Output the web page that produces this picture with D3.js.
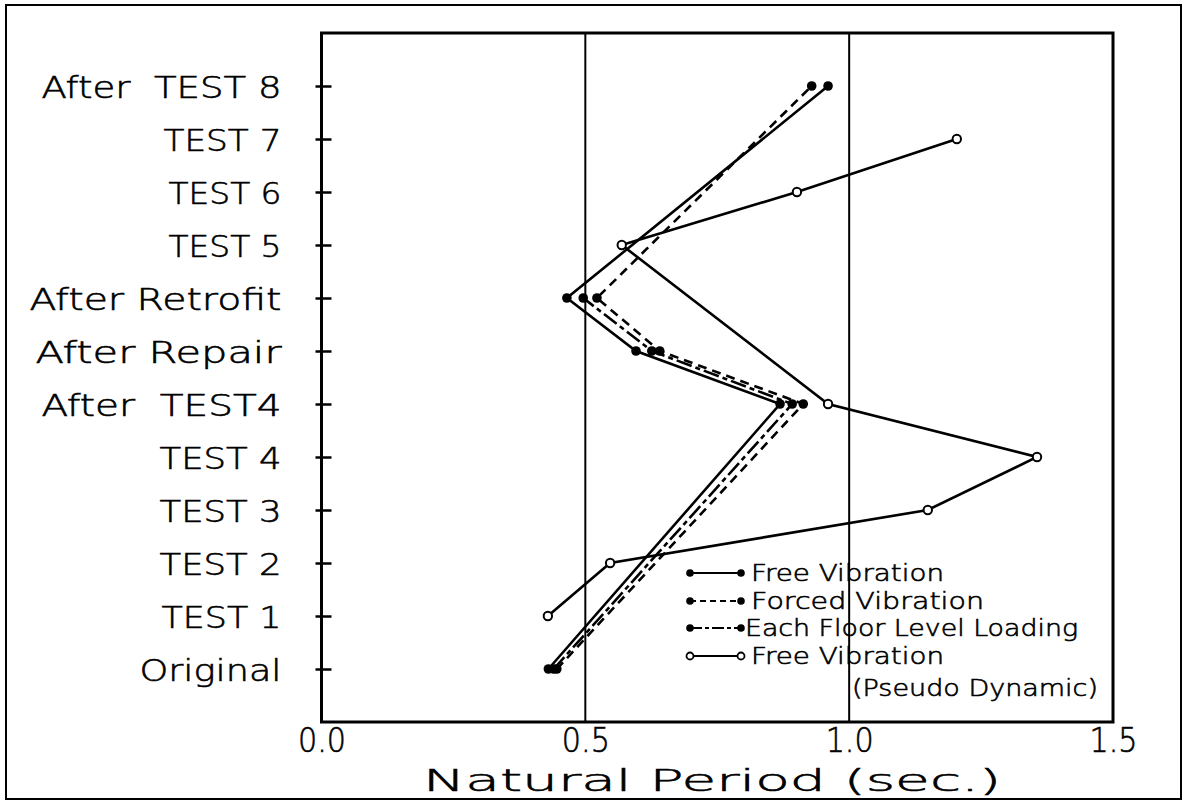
<!DOCTYPE html>
<html><head><meta charset="utf-8">
<script src="https://cdn.jsdelivr.net/npm/d3@7"></script>
<style>body{margin:0;background:#fff}svg{display:block}text{font-family:"DejaVu Sans",sans-serif;fill:#000;font-weight:200;stroke:#000;stroke-width:0.6}</style>
</head><body>
<svg id="c" width="1185" height="801"></svg>
<script>
const categories = ["Original","TEST 1","TEST 2","TEST 3","TEST 4","After  TEST4","After Repair","After Retrofit","TEST 5","TEST 6","TEST 7","After  TEST 8"];
const labelWidths = [142,120,122,122,122,240,246,252,113,113,118,240];
const freeVib    = [0.43, null, null, null, null, 0.869, 0.596, 0.465, null, null, null, 0.960];
const forcedVib  = [0.446,null, null, null, null, 0.913, 0.641, 0.522, null, null, null, 0.929];
const floorLoad  = [0.44, null, null, null, null, 0.892, 0.626, 0.496, null, null, null, null];
const pseudoVib  = [null, 0.429, 0.547, 1.149, 1.356, 0.960, null, null, 0.569, 0.901, 1.204, null];
const xTicks = [0.0, 0.5, 1.0, 1.5];
const legendLabels = ["Free Vibration","Forced Vibration","Each Floor Level Loading","Free Vibration"];

const svg = d3.select("#c");
const L = 321.5, R = 1113, T = 33, B = 722;
const x = d3.scaleLinear().domain([0,1.5]).range([L,R]);
const y = d3.scaleLinear().domain([-1,12]).range([B,T]);

// outer border
svg.append("rect").attr("x",6).attr("y",5).attr("width",1175).attr("height",794)
  .attr("fill","none").attr("stroke","#000").attr("stroke-width",2);

// gridlines
svg.append("g").selectAll("line").data([0.5,1.0]).join("line")
  .attr("x1",d=>x(d)).attr("x2",d=>x(d)).attr("y1",T).attr("y2",B)
  .attr("stroke","#000").attr("stroke-width",2);

// frame
svg.append("rect").attr("x",L).attr("y",T).attr("width",R-L).attr("height",B-T)
  .attr("fill","none").attr("stroke","#000").attr("stroke-width",3);

// y ticks (crossing)
const ya = d3.axisLeft(y).tickValues(d3.range(12)).tickSize(0).tickFormat("");
const yg = svg.append("g").attr("transform",`translate(${L},0)`).call(ya);
yg.select(".domain").remove();
yg.selectAll(".tick").append("line").attr("x1",-6).attr("x2",10).attr("stroke","#000").attr("stroke-width",2.5);
yg.selectAll(".tick").append("text").data(d3.range(12))
  .attr("x",-40).attr("dy","0.36em").attr("text-anchor","end")
  .attr("font-size",31)
  .attr("textLength",i=>labelWidths[i]).attr("lengthAdjust","spacingAndGlyphs")
  .style("white-space","pre")
  .text(i=>categories[i]);

// x axis labels
const xa = d3.axisBottom(x).tickValues(xTicks).tickSize(0).tickFormat(d3.format(".1f"));
const xg = svg.append("g").attr("transform",`translate(0,${B})`).call(xa);
xg.select(".domain").remove();
xg.selectAll("text").attr("font-size",33).attr("dy",0).attr("y",30).attr("font-family","DejaVu Sans")
  .attr("textLength",48).attr("lengthAdjust","spacingAndGlyphs");
svg.append("text").attr("x",712).attr("y",791).attr("text-anchor","middle")
  .attr("font-size",31).attr("textLength",578).attr("lengthAdjust","spacingAndGlyphs")
  .text("Natural Period (sec.)");

// series
const series = [
  {vals:freeVib, dash:null, open:false},
  {vals:forcedVib, dash:"9,6", open:false},
  {vals:floorLoad, dash:"16,4,5,4", open:false},
  {vals:pseudoVib, dash:null, open:true}
];
const line = d3.line().x(d=>x(d.v)).y(d=>y(d.i));
series.forEach(s=>{
  const pts = s.vals.map((v,i)=>({v,i})).filter(d=>d.v!==null);
  svg.append("path").datum(pts).attr("d",line).attr("fill","none")
    .attr("stroke","#000").attr("stroke-width",2.6).attr("stroke-dasharray",s.dash);
  svg.append("g").selectAll("circle").data(pts).join("circle")
    .attr("cx",d=>x(d.v)).attr("cy",d=>y(d.i)).attr("r",s.open?4.2:4.8)
    .attr("fill",s.open?"#fff":"#000").attr("stroke","#000").attr("stroke-width",s.open?2:0);
});

// legend
const lg = svg.append("g");
const rowsY = [573,601,628,656];
series.forEach((s,k)=>{
  const yy = rowsY[k];
  lg.append("line").attr("x1",690).attr("x2",741).attr("y1",yy).attr("y2",yy)
    .attr("stroke","#000").attr("stroke-width",2.2).attr("stroke-dasharray",s.dash?(k===1?"6,4":"12,3,4,3"):null);
  [690,741].forEach(cx=>lg.append("circle").attr("cx",cx).attr("cy",yy).attr("r",s.open?3.5:3.8)
    .attr("fill",s.open?"#fff":"#000").attr("stroke","#000").attr("stroke-width",s.open?1.8:0));
  const widths=[193,233,333,193];
  lg.append("text").attr("x",k===2?745:751).attr("y",yy).attr("dy","0.36em").attr("font-size",23)
    .attr("textLength",widths[k]).attr("lengthAdjust","spacingAndGlyphs").text(legendLabels[k]);
});
lg.append("text").attr("x",852).attr("y",688).attr("dy","0.36em").attr("font-size",23)
  .attr("textLength",246).attr("lengthAdjust","spacingAndGlyphs").text("(Pseudo Dynamic)");
</script>
</body></html>
